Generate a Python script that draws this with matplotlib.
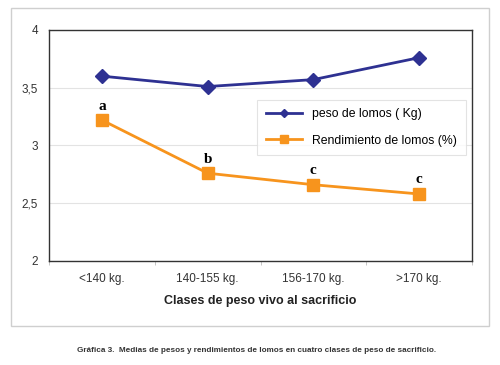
import matplotlib.pyplot as plt
from matplotlib.patches import Rectangle
from matplotlib.ticker import FuncFormatter, FixedLocator

# data
clases = ["<140 kg.", "140-155 kg.", "156-170 kg.", ">170 kg."]
peso_lomos = [3.60, 3.51, 3.57, 3.76]
rendimiento = [3.22, 2.76, 2.66, 2.58]
letras = ["a", "b", "c", "c"]

plt.rcParams["font.family"] = ["Liberation Sans", "DejaVu Sans"]

fig = plt.figure(figsize=(5, 3.65), dpi=100)
ax = fig.add_axes([0.098, 0.285, 0.846, 0.633])

# outer frame around the chart
fig.patches.append(Rectangle((11 / 500, 1 - 326 / 365), 478 / 500, 318 / 365,
                             transform=fig.transFigure, fill=False,
                             edgecolor="#cfcfcf", linewidth=1))

x = list(range(len(clases)))
ax.plot(x, peso_lomos, color="#2E3192", marker="D", markersize=7,
        linewidth=2, label="peso de lomos ( Kg)", zorder=3)
ax.plot(x, rendimiento, color="#F7941D", marker="s", markersize=8.5,
        linewidth=2, label="Rendimiento de lomos (%)", zorder=3)

for xi, yi, t in zip(x, rendimiento, letras):
    ax.text(xi, yi + 0.065, t, ha="center", va="bottom", fontsize=11,
            fontweight="bold", family="Liberation Serif")

ax.set_xlim(-0.5, 3.5)
ax.set_ylim(2, 4)
ax.set_yticks([2, 2.5, 3, 3.5, 4])
ax.yaxis.set_major_formatter(FuncFormatter(lambda v, p: f"{v:g}".replace(".", ",")))
ax.grid(axis="y", color="#e3e3e3", linewidth=0.8)
ax.set_axisbelow(True)

ax.set_xticks(x)
ax.set_xticklabels(clases)
ax.xaxis.set_minor_locator(FixedLocator([-0.5, 0.5, 1.5, 2.5, 3.5]))
ax.tick_params(axis="x", which="major", length=0, pad=9, labelsize=8.5, labelcolor="#333333")
ax.tick_params(axis="x", which="minor", length=3, color="#bbbbbb")
ax.tick_params(axis="y", length=0, pad=8, labelsize=8.5, labelcolor="#333333")

for s in ax.spines.values():
    s.set_color("#333333")
    s.set_linewidth(1)

ax.set_xlabel("Clases de peso vivo al sacrificio", fontsize=9, fontweight="bold",
              color="#222222", labelpad=7)

leg = ax.legend(loc="upper left", bbox_to_anchor=(0.492, 0.697), fontsize=8.8,
                frameon=True, fancybox=False, edgecolor="#dddddd",
                handlelength=3, borderpad=0.7, labelspacing=1.15, markerscale=0.65,
                borderaxespad=0)
leg.get_frame().set_linewidth(0.8)

fig.text(257 / 500, 1 - 350 / 365,
         "Gráfica 3.  Medias de pesos y rendimientos de lomos en cuatro clases de peso de sacrificio.",
         ha="center", va="center", fontsize=5.85, fontweight="bold", color="#333333")

fig.savefig("out.png", dpi=100)
